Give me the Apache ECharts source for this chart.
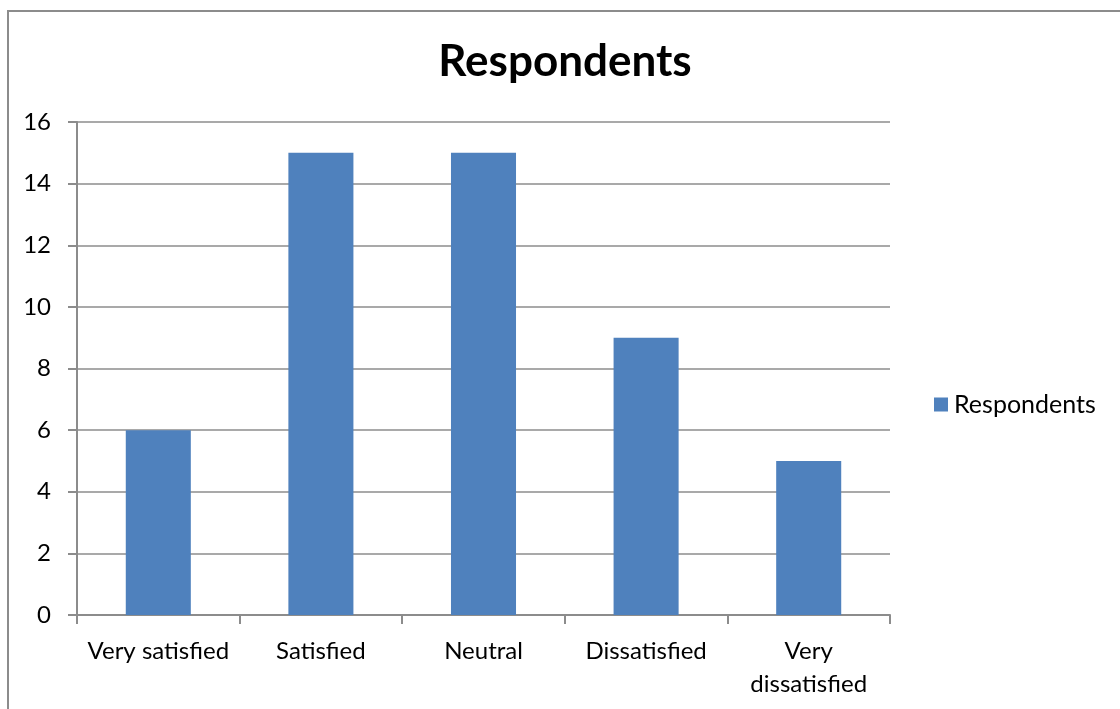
<!DOCTYPE html>
<html lang="en">
<head>
    <meta charset="UTF-8">
    <title>Respondents</title>
    <script type="text/javascript" src="https://cdn.jsdelivr.net/npm/echarts@6/dist/echarts.min.js"></script>
    <style>
        body { margin: 0; background: #fff; overflow: hidden; }
        #frame { position: absolute; left: 7px; top: 10px; width: 1200px; height: 800px; border: 2px solid #8c8c8c; }
        #main { position: absolute; left: 0; top: 0; width: 1120px; height: 709px; }
    </style>
</head>
<body>
<div id="frame"></div>
<div id="main"></div>

<script type="text/javascript">
    var myChart = echarts.init(document.getElementById('main'));

    // data
    var categories = ['Very satisfied', 'Satisfied', 'Neutral', 'Dissatisfied', 'Very dissatisfied'];
    var respondents = [6, 15, 15, 9, 5];
    var seriesName = 'Respondents';

    var font = 'Lato';

    var option = {
        animation: false,
        title: {
            text: 'Respondents',
            left: 565,
            textAlign: 'center',
            top: 40,
            padding: 0,
            textStyle: { fontFamily: font, fontSize: 44, fontWeight: 'bold', color: '#000' }
        },
        legend: {
            data: [seriesName],
            orient: 'vertical',
            left: 934,
            top: 392,
            padding: 0,
            itemWidth: 14,
            itemHeight: 14,
            icon: 'rect',
            textStyle: { fontFamily: font, fontSize: 25, color: '#000', padding: [0, 0, 0, 1] }
        },
        grid: { left: 77, right: 230, top: 122, bottom: 94 },
        xAxis: {
            type: 'category',
            data: categories,
            axisLine: { lineStyle: { color: '#8c8c8c', width: 2 } },
            axisTick: { show: true, length: 9, lineStyle: { color: '#8c8c8c', width: 2 } },
            axisLabel: {
                fontFamily: font, fontSize: 24, color: '#000', margin: 20, lineHeight: 33,
                interval: 0,
                formatter: function (v) { return v.length > 14 ? v.replace(' ', '\n') : v; }
            }
        },
        yAxis: {
            type: 'value',
            min: 0, max: 16, interval: 2,
            axisLine: { show: true, lineStyle: { color: '#8c8c8c', width: 2 } },
            axisTick: { show: true, length: 9, lineStyle: { color: '#8c8c8c', width: 2 } },
            splitLine: { lineStyle: { color: '#8c8c8c', width: 1.5 } },
            axisLabel: { fontFamily: font, fontSize: 24, color: '#000', margin: 26 }
        },
        series: [{
            name: seriesName,
            type: 'bar',
            data: respondents,
            barWidth: '40%',
            itemStyle: { color: '#4f81bd' }
        }]
    };

    myChart.setOption(option);
</script>
</body>
</html>
